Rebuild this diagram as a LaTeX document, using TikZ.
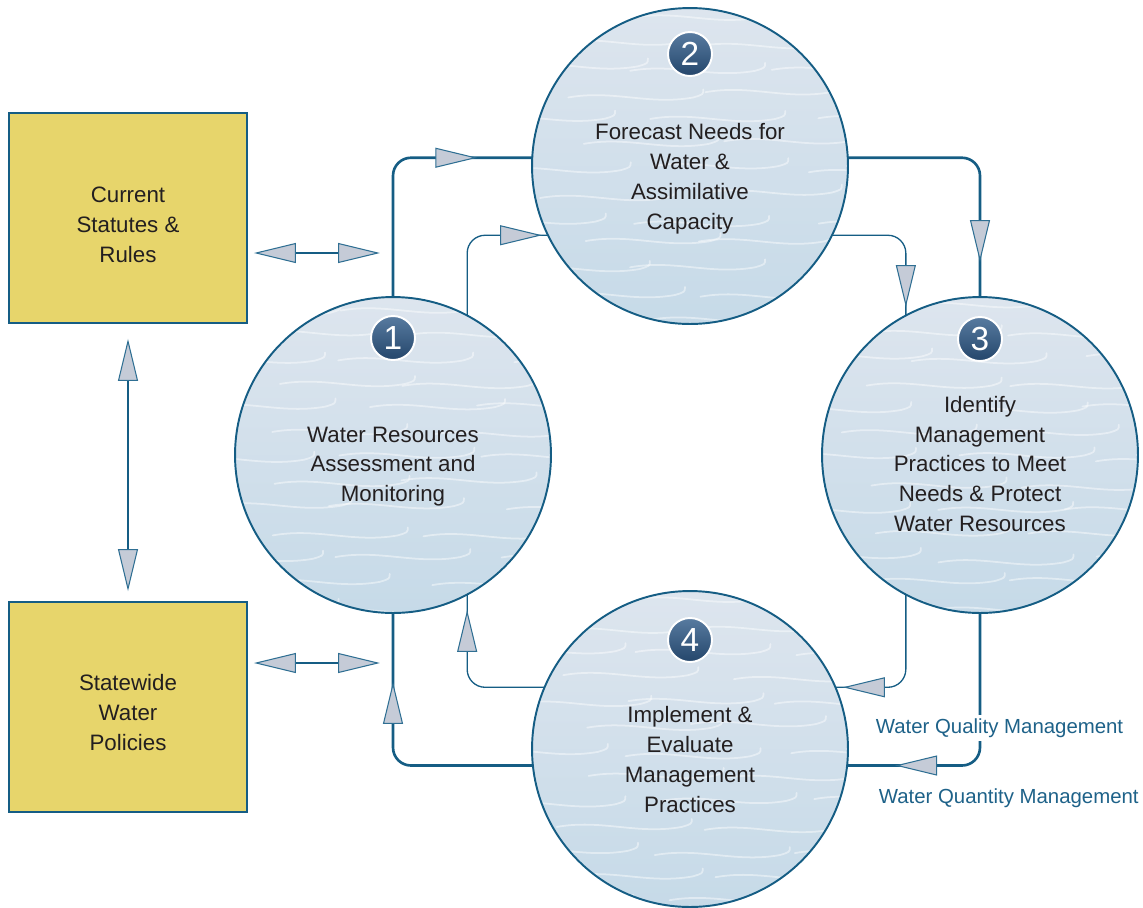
\documentclass[tikz,border=0pt]{standalone}
\usepackage{fontspec}
\setmainfont{Liberation Sans}
\usetikzlibrary{arrows.meta,decorations.markings}

\definecolor{edge}{HTML}{155D84}
\definecolor{trifill}{HTML}{C5CBD7}
\definecolor{triedge}{HTML}{2F6F93}
\definecolor{boxfill}{HTML}{E7D56B}
\definecolor{ink}{HTML}{231F20}
\definecolor{notecol}{HTML}{1E6289}
\definecolor{waterhi}{HTML}{DDE5EE}
\definecolor{waterlo}{HTML}{C6DAE8}
\definecolor{badgehi}{HTML}{587BA0}
\definecolor{badgelo}{HTML}{24466B}

\tikzset{
  wedge/.tip={Triangle[length=0.84cm,width=0.4cm,fill=trifill,color=triedge,line width=0.6pt]},
  stage/.style={circle,draw=edge,line width=1.1pt,minimum size=6.32cm,outer sep=0pt},
  caption/.style={align=center,text=ink,font=\fontsize{12.7}{17}\selectfont},
  badge/.style={circle,draw=white,line width=1.1pt,top color=badgehi,bottom color=badgelo,
    minimum size=0.88cm,inner sep=0pt,text=white,font=\fontsize{19}{19}\selectfont},
  policybox/.style={rectangle,draw=edge,line width=1.1pt,fill=boxfill,minimum width=4.76cm,
    minimum height=4.2cm},
  note/.style={fill=white,inner sep=2pt,text=notecol,font=\fontsize{11.6}{14}\selectfont},
  streak/.style={white,opacity=0.45,line width=1pt,line cap=round},
  flow/.style={rounded corners=0.36cm,postaction=decorate,
    decoration={markings,mark=at position #1 with {\arrow{wedge}}}},
  qty/.style={draw=edge,line width=1.5pt,flow=#1},
  qlt/.style={draw=edge,line width=0.75pt,flow=#1},
  link/.style={draw=edge,line width=0.75pt},
}

% shaded disc with light streaks, centre given in px
\newcommand{\waterfill}[2]{%
  \fill[top color=waterhi,bottom color=waterlo] (#1,#2) circle (3.16cm);
  \begin{scope}
    \clip (#1,#2) circle (3.16cm);
    \foreach \r in {0,...,12} \foreach \k in {0,...,2} {
      \pgfmathsetmacro{\xa}{#1-220+\k*150+mod(\r,2)*70+50*rnd}
      \pgfmathsetmacro{\ya}{#2-150+\r*25+8*rnd}
      \draw[streak] (\xa,\ya) .. controls +(45,-8) and +(-45,8) .. +(125,0)
        .. controls +(10,-3) .. +(135,-8);
    }
  \end{scope}}

\begin{document}
\begin{tikzpicture}[x=0.02cm,y=-0.02cm]
  \useasboundingbox (0,0) rectangle (1143,907);
  \pgfmathsetseed{11}

  % water discs
  \foreach \cx/\cy in {393/455,690/166,980/455,690/749} {\waterfill{\cx}{\cy}}

  \node[stage] (c1) at (393,455) {};
  \node[stage] (c2) at (690,166) {};
  \node[stage] (c3) at (980,455) {};
  \node[stage] (c4) at (690,749) {};

  \node[caption] (t1) at ([yshift=-0.23cm]c1.center) {Water Resources\\Assessment and\\Monitoring};
  \node[caption] (t2) at ([yshift=-0.26cm]c2.center) {Forecast Needs for\\Water \&\\Assimilative\\Capacity};
  \node[caption] (t3) at ([yshift=-0.18cm]c3.center) {Identify\\Management\\Practices to Meet\\Needs \& Protect\\Water Resources};
  \node[caption] (t4) at ([yshift=-0.21cm]c4.center) {Implement \&\\Evaluate\\Management\\Practices};

  \node[badge] (n1) at (393,338) {1};
  \node[badge] (n2) at (690,54) {2};
  \node[badge] (n3) at (980,339) {3};
  \node[badge] (n4) at (690,640) {4};

  % outer loop: water quantity
  \draw[qty=-1.1cm] (c1.north) |- (c2.177);
  \draw[qty=-0.7cm] (c2.3) -| (c3.north);
  \draw[qty=-0.96cm] (c3.south) |- (c4.354);
  \draw[qty=-1.38cm] (c4.186) -| (c1.south);

  % inner loop: water quality
  \draw[qlt=-0.12cm] (c1.62) |- (c2.206);
  \draw[qlt=-0.17cm] (c2.334) -| (c3.118);
  \draw[qlt=-0.15cm] (c3.242) |- (c4.23);
  \draw[qlt=-0.31cm] (c4.157) -| (c1.298);

  % statutes and policies
  \node[policybox] (statutes) at (128,218) {};
  \node[policybox] (policies) at (128,707) {};
  \node[caption] (l1) at ([yshift=-0.13cm]statutes.center) {Current\\Statutes \&\\Rules};
  \node[caption] (l2) at ([yshift=-0.11cm]policies.center) {Statewide\\Water\\Policies};

  \coordinate (s1) at (380,253);
  \coordinate (s2) at (380,663);
  \draw[link,wedge-wedge,shorten <=0.12cm] (statutes.east |- s1) -- (s1);
  \draw[link,wedge-wedge,shorten <=0.12cm] (policies.east |- s2) -- (s2);
  \draw[link,wedge-wedge,shorten <=0.3cm,shorten >=0.2cm] (statutes) -- (policies);

  \node[note,anchor=west] (ql) at (872,728) {Water Quality Management};
  \node[note,anchor=west] (qn) at (875,798) {Water Quantity Management};
\end{tikzpicture}
\end{document}
